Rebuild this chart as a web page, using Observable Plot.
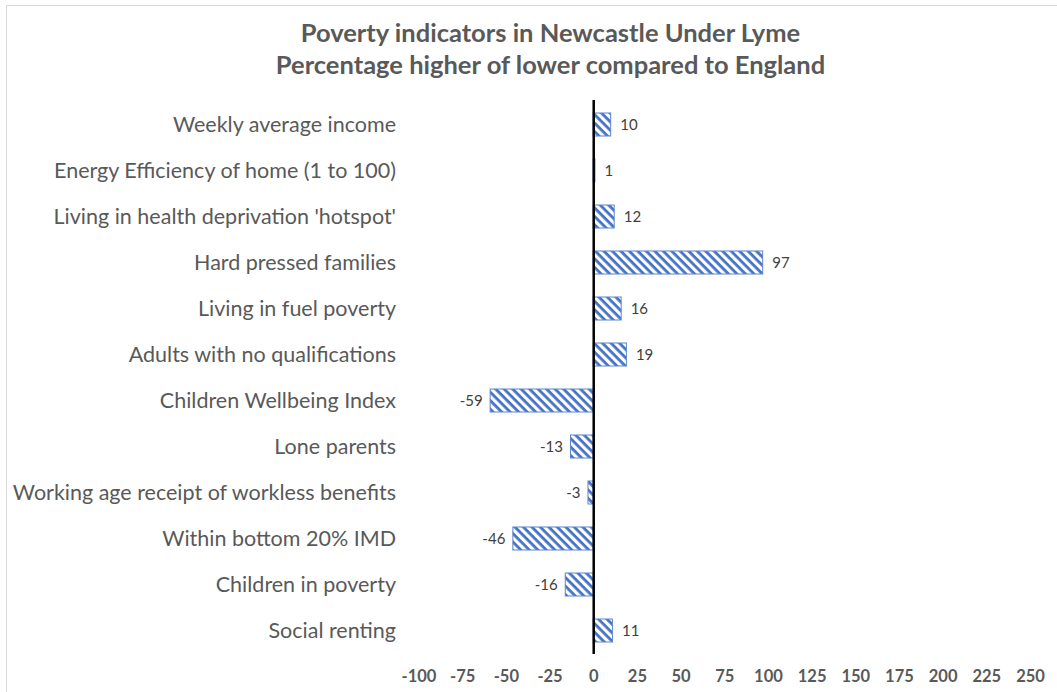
<!DOCTYPE html>
<html>
<head>
<meta charset="utf-8">
<script src="https://cdn.jsdelivr.net/npm/d3@7"></script>
<script src="https://cdn.jsdelivr.net/npm/@observablehq/plot@0.6"></script>
<style>
  html, body { margin: 0; padding: 0; background: #fff; overflow: hidden; }
  #frame { position: absolute; left: 6px; top: 5px; width: 1200px; height: 800px; border-top: 1.5px solid #d9d9d9; border-left: 1.5px solid #d9d9d9; box-sizing: border-box; }
  #wrap { position: absolute; left: 0; top: 0; width: 1057px; }
  #title { height: 95px; box-sizing: border-box; padding-top: 16px; text-align: center; font-family: Lato, "Open Sans", sans-serif; font-weight: bold; font-size: 25.5px; line-height: 32px; color: #595959; padding-left: 44px; }
</style>
</head>
<body>
<div id="frame"></div>
<div id="wrap">
  <div id="title">Poverty indicators in Newcastle Under Lyme<br>Percentage higher of lower compared to England</div>
  <div id="chart"></div>
</div>
<script>
const categories = [
  "Weekly average income",
  "Energy Efficiency of home (1 to 100)",
  "Living in health deprivation 'hotspot'",
  "Hard pressed families",
  "Living in fuel poverty",
  "Adults with no qualifications",
  "Children Wellbeing Index",
  "Lone parents",
  "Working age receipt of workless benefits",
  "Within bottom 20% IMD",
  "Children in poverty",
  "Social renting"
];
const values = [10, 1, 12, 97, 16, 19, -59, -13, -3, -46, -16, 11];
const xTicks = [-100, -75, -50, -25, 0, 25, 50, 75, 100, 125, 150, 175, 200, 225, 250];

const data = categories.map((c, i) => ({category: c, value: values[i]}));

const chart = Plot.plot({
  width: 1057,
  height: 597,
  marginLeft: 418.5,
  marginRight: 27,
  marginTop: 5,
  marginBottom: 38,
  style: {fontFamily: "Lato, 'Open Sans', sans-serif", background: "transparent"},
  x: {domain: [-100, 250], ticks: xTicks},
  y: {domain: categories, paddingInner: 0.5, paddingOuter: 0.25},
  marks: [
    Plot.barX(data, {y: "category", x: "value", fill: "url(#hatch)", stroke: "#5b85d0", strokeWidth: 1}),
    Plot.ruleX([0], {stroke: "#000", strokeWidth: 2.5}),
    Plot.text(data.filter(d => d.value >= 0), {y: "category", x: "value", text: d => String(d.value), textAnchor: "start", dx: 9, fontSize: 15, fill: "#404040"}),
    Plot.text(data.filter(d => d.value < 0), {y: "category", x: "value", text: d => String(d.value), textAnchor: "end", dx: -8, fontSize: 15, fill: "#404040"}),
    Plot.axisY({anchor: "left", tickSize: 0, tickPadding: 23, fontSize: 21.5, color: "#595959", label: null}),
    Plot.axisX({anchor: "bottom", ticks: xTicks, tickSize: 0, tickPadding: 16, fontSize: 16.5, fontWeight: "bold", color: "#595959", label: null, tickFormat: d => String(d)})
  ]
});

// add hatch pattern
const ns = "http://www.w3.org/2000/svg";
const defs = document.createElementNS(ns, "defs");
const pat = document.createElementNS(ns, "pattern");
pat.setAttribute("id", "hatch");
pat.setAttribute("patternUnits", "userSpaceOnUse");
pat.setAttribute("width", "6");
pat.setAttribute("height", "6");
pat.setAttribute("patternTransform", "rotate(45)");
const bg = document.createElementNS(ns, "rect");
bg.setAttribute("width", "6"); bg.setAttribute("height", "6"); bg.setAttribute("fill", "#fff");
const st = document.createElementNS(ns, "rect");
st.setAttribute("width", "6"); st.setAttribute("height", "2.8"); st.setAttribute("fill", "#4472c4");
pat.appendChild(bg); pat.appendChild(st);
defs.appendChild(pat);
chart.insertBefore(defs, chart.firstChild);

document.getElementById("chart").appendChild(chart);
</script>
</body>
</html>
